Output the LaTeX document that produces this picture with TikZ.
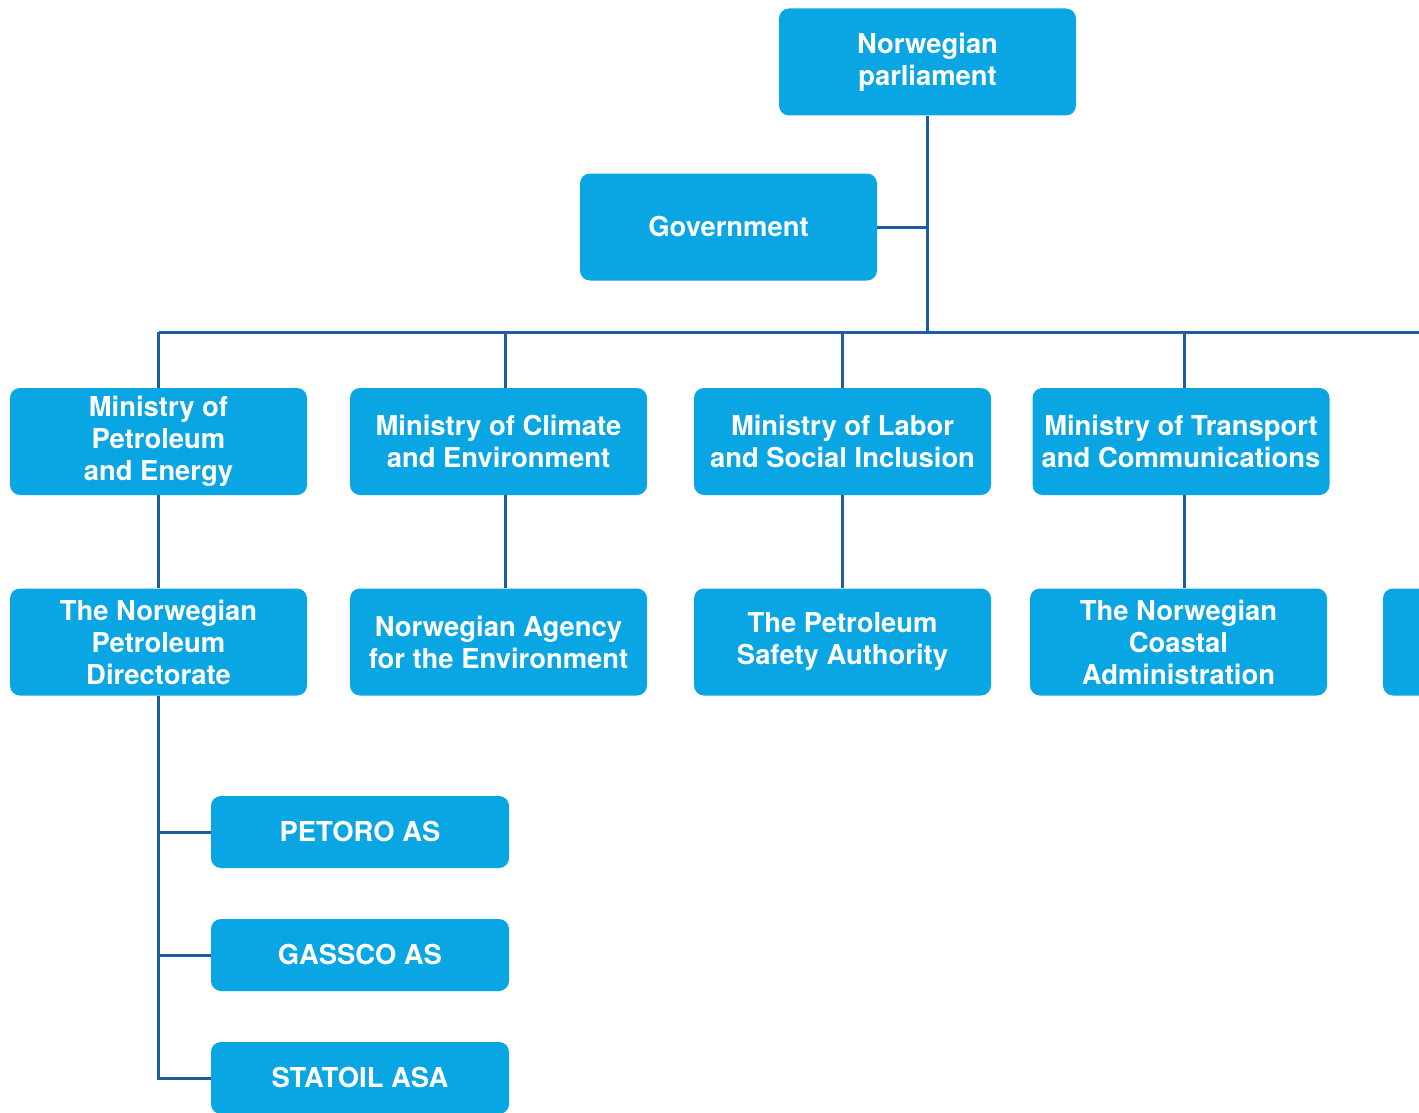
\documentclass[tikz,border=0pt]{standalone}
\usepackage{fontspec}
\setmainfont{TeX Gyre Heros}
\definecolor{boxblue}{HTML}{0AA6E4}
\definecolor{linkblue}{HTML}{1D5E9E}
\begin{document}
\begin{tikzpicture}[x=0.5pt,y=-0.5pt,
  orgbox/.style={fill=boxblue, draw=none, rounded corners=5pt, text=white,
    font=\fontsize{13.7}{16}\selectfont\bfseries, align=center,
    minimum width=148.5pt, minimum height=53.5pt, inner sep=0pt},
  smallbox/.style={orgbox, minimum width=149pt, minimum height=36pt},
  link/.style={draw=linkblue, line width=1.5pt}]
\useasboundingbox (0,0) rectangle (1419,1113);
\fill[white] (0,0) rectangle (1419,1113);
\clip (0,0) rectangle (1419,1113);

\node[orgbox] (parl) at (927.5,62) {Norwegian\\parliament};
\node[orgbox] (gov) at (728.5,227) {Government};

\node[orgbox] (mpe) at (158.5,441.5) {Ministry of\\Petroleum\\and Energy};
\node[orgbox] (mce) at (498.5,441.5) {Ministry of Climate\\and Environment};
\node[orgbox] (mlsi) at (842.5,441.5) {Ministry of Labor\\and Social Inclusion};
\node[orgbox] (mtc) at (1181,441.5) {Ministry of Transport\\and Communications};

\node[orgbox] (npd) at (158.5,642) {The Norwegian\\Petroleum\\Directorate};
\node[orgbox] (nae) at (498.5,642) {Norwegian Agency\\for the Environment};
\node[orgbox] (psa) at (842.5,642) {The Petroleum\\Safety Authority};
\node[orgbox] (nca) at (1178.5,642) {The Norwegian\\Coastal\\Administration};
\node[orgbox] (extra) at (1531.5,642) {};

\node[smallbox] (petoro) at (360,832) {PETORO AS};
\node[smallbox] (gassco) at (360,955) {GASSCO AS};
\node[smallbox] (statoil) at (360,1078) {STATOIL ASA};

\coordinate (bus) at (928,332);
\coordinate (busend) at (1430,332);

\draw[link] (parl.south) -- (parl.south |- bus);
\draw[link] (gov.east) -- (parl.south |- gov.east);
\draw[link] (mpe.north |- bus) -- (busend);
\draw[link] (mpe.north |- bus) -- (mpe.north);
\draw[link] ([xshift=3.25pt]mce.north |- bus) -- ([xshift=3.25pt]mce.north);
\draw[link] (mlsi.north |- bus) -- (mlsi.north);
\draw[link] ([xshift=1.5pt]mtc.north |- bus) -- ([xshift=1.5pt]mtc.north);
\draw[link] (mpe.south) -- (npd.north);
\draw[link] ([xshift=3.25pt]mce.south) -- ([xshift=3.25pt]mce.south |- nae.north);
\draw[link] (mlsi.south) -- (psa.north);
\draw[link] ([xshift=1.5pt]mtc.south) -- ([xshift=1.5pt]mtc.south |- nca.north);
\draw[link] (npd.south) -- (npd.south |- statoil.west) -- (statoil.west);
\draw[link] (npd.south |- petoro.west) -- (petoro.west);
\draw[link] (npd.south |- gassco.west) -- (gassco.west);
\end{tikzpicture}
\end{document}
